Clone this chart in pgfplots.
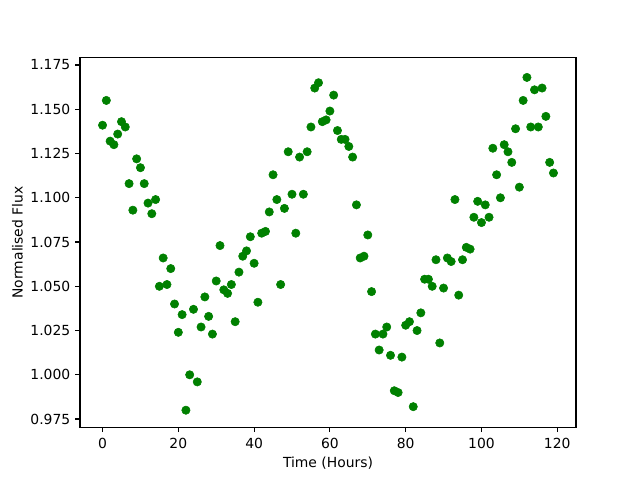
\documentclass[border=0pt]{standalone}
\usepackage{fontspec}
\setmainfont{DejaVu Sans}
\usepackage{pgfplots}
\pgfplotsset{compat=1.18}
\definecolor{mplgreen}{RGB}{0,128,0}
\begin{document}
\fontsize{10}{12}\selectfont
\begin{tikzpicture}
\path[use as bounding box] (-57.6pt,-38.02pt) rectangle (403.2pt,307.58pt);
\begin{axis}[
  at={(0,0)}, anchor=south west,
  width=357.12pt, height=266.11pt, scale only axis,
  xmin=-5.95, xmax=124.95, ymin=0.9704, ymax=1.1792,
  axis line style={line width=0.8pt},
  tick style={black, line width=0.8pt},
  tick align=outside, major tick length=3.5pt,
  xtick pos=left, ytick pos=left,
  xtick={0,20,...,120},
  ytick={0.975,1.000,1.025,1.050,1.075,1.100,1.125,1.150,1.175},
  yticklabel style={/pgf/number format/.cd, fixed, fixed zerofill, precision=3},
  /pgf/number format/assume math mode=true,
  ticklabel style={font=\fontsize{10}{12}\selectfont},
  xticklabel style={yshift=-1pt},
  xlabel={Time (Hours)}, ylabel={Normalised Flux},
  xlabel style={at={(axis description cs:0.5,-0.097)}, anchor=center},
  ylabel style={at={(axis description cs:-0.126,0.5)}, anchor=center},
  label style={font=\fontsize{10}{12}\selectfont},
]
\addplot[only marks, mark=*, mark size=3pt, color=mplgreen, mark options={draw=mplgreen, fill=mplgreen}] coordinates {
(0,1.141) (1,1.155) (2,1.132) (3,1.130) (4,1.136) (5,1.143) (6,1.140) (7,1.108) (8,1.093) (9,1.122)
(10,1.117) (11,1.108) (12,1.097) (13,1.091) (14,1.099) (15,1.050) (16,1.066) (17,1.051) (18,1.060) (19,1.040)
(20,1.024) (21,1.034) (22,0.980) (23,1.000) (24,1.037) (25,0.996) (26,1.027) (27,1.044) (28,1.033) (29,1.023)
(30,1.053) (31,1.073) (32,1.048) (33,1.046) (34,1.051) (35,1.030) (36,1.058) (37,1.067) (38,1.070) (39,1.078)
(40,1.063) (41,1.041) (42,1.080) (43,1.081) (44,1.092) (45,1.113) (46,1.099) (47,1.051) (48,1.094) (49,1.126)
(50,1.102) (51,1.080) (52,1.123) (53,1.102) (54,1.126) (55,1.140) (56,1.162) (57,1.165) (58,1.143) (59,1.144)
(60,1.149) (61,1.158) (62,1.138) (63,1.133) (64,1.133) (65,1.129) (66,1.123) (67,1.096) (68,1.066) (69,1.067)
(70,1.079) (71,1.047) (72,1.023) (73,1.014) (74,1.023) (75,1.027) (76,1.011) (77,0.991) (78,0.990) (79,1.010)
(80,1.028) (81,1.030) (82,0.982) (83,1.025) (84,1.035) (85,1.054) (86,1.054) (87,1.050) (88,1.065) (89,1.018)
(90,1.049) (91,1.066) (92,1.064) (93,1.099) (94,1.045) (95,1.065) (96,1.072) (97,1.071) (98,1.089) (99,1.098)
(100,1.086) (101,1.096) (102,1.089) (103,1.128) (104,1.113) (105,1.100) (106,1.130) (107,1.126) (108,1.120) (109,1.139)
(110,1.106) (111,1.155) (112,1.168) (113,1.140) (114,1.161) (115,1.140) (116,1.162) (117,1.146) (118,1.120) (119,1.114)
};
\end{axis}
\end{tikzpicture}
\end{document}
